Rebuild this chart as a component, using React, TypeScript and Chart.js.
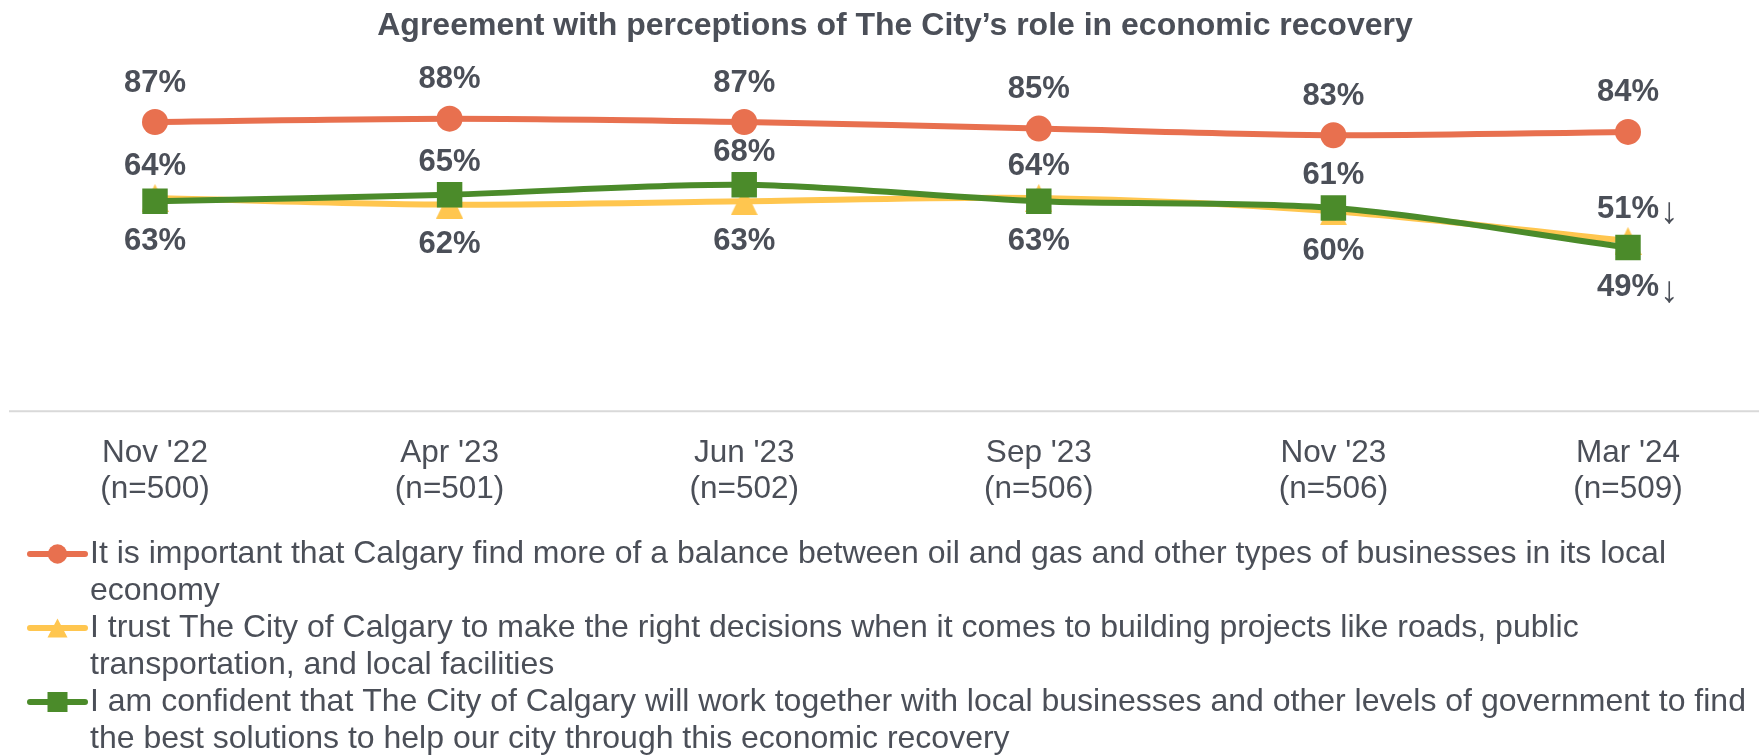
import React, { useEffect, useRef } from 'react';
import { Chart, registerables } from 'chart.js';

Chart.register(...registerables);

const chartTitle = 'Agreement with perceptions of The City’s role in economic recovery';
const waves = ["Nov '22", "Apr '23", "Jun '23", "Sep '23", "Nov '23", "Mar '24"];
const sampleSizes = ['(n=500)', '(n=501)', '(n=502)', '(n=506)', '(n=506)', '(n=509)'];

const balanceValues = [87, 88, 87, 85, 83, 84];
const trustValues = [64, 62, 63, 64, 60, 51];
const confidentValues = [63, 65, 68, 63, 61, 49];

const balanceSigDown = [false, false, false, false, false, false];
const trustSigDown = [false, false, false, false, false, true];
const confidentSigDown = [false, false, false, false, false, true];

const seriesNames = [
  'It is important that Calgary find more of a balance between oil and gas and other types of businesses in its local economy',
  'I trust The City of Calgary to make the right decisions when it comes to building projects like roads, public transportation, and local facilities',
  'I am confident that The City of Calgary will work together with local businesses and other levels of government to find the best solutions to help our city through this economic recovery',
];

const RED = '#E8704F';
const YELLOW = '#FFC64F';
const GREEN = '#4B8B2A';
const TEXT = '#4B4F58';
const FONT = '"Liberation Sans", Arial, "DejaVu Sans", sans-serif';

function makeTriangle(w: number, h: number, color: string): HTMLCanvasElement {
  const c = document.createElement('canvas');
  c.width = w;
  c.height = h;
  const g = c.getContext('2d')!;
  g.fillStyle = color;
  g.beginPath();
  g.moveTo(0, h);
  g.lineTo(w / 2, 0);
  g.lineTo(w, h);
  g.closePath();
  g.fill();
  return c;
}

export default function App() {
  const ref = useRef<HTMLCanvasElement | null>(null);

  useEffect(() => {
    const canvas = ref.current;
    if (!canvas) return;
    const tri = makeTriangle(27, 28, YELLOW);

    const labelPlugin = {
      id: 'customDraw',
      afterDatasetsDraw(chart: any) {
        const ctx = chart.ctx;
        const area = chart.chartArea;
        ctx.save();
        // axis line
        ctx.strokeStyle = '#D9D9D9';
        ctx.lineWidth = 2;
        ctx.beginPath();
        ctx.moveTo(9, area.bottom);
        ctx.lineTo(1759, area.bottom);
        ctx.stroke();

        // data labels
        const drawLabel = (x: number, y: number, v: number, down: boolean) => {
          ctx.font = `bold 31px ${FONT}`;
          ctx.fillStyle = TEXT;
          ctx.textAlign = 'center';
          ctx.textBaseline = 'middle';
          const txt = `${v}%`;
          ctx.fillText(txt, x, y);
          if (down) {
            const w = ctx.measureText(txt).width;
            ctx.font = `37px ${FONT}`;
            ctx.textAlign = 'left';
            ctx.fillText('↓', x + w / 2 + 1, y + 4);
          }
        };
        const m0 = chart.getDatasetMeta(0);
        const m1 = chart.getDatasetMeta(1);
        const m2 = chart.getDatasetMeta(2);
        balanceValues.forEach((v, j) => {
          const p = m0.data[j];
          drawLabel(p.x, p.y - 39, v, balanceSigDown[j]);
        });
        trustValues.forEach((v, j) => {
          const pt = m1.data[j];
          const pc = m2.data[j];
          const cv = confidentValues[j];
          if (v >= cv) {
            drawLabel(pt.x, pt.y - 32, v, trustSigDown[j]);
            drawLabel(pc.x, pc.y + 40, cv, confidentSigDown[j]);
          } else {
            drawLabel(pc.x, pc.y - 32, cv, confidentSigDown[j]);
            drawLabel(pt.x, pt.y + 40, v, trustSigDown[j]);
          }
        });

        // title
        ctx.font = `bold 32px ${FONT}`;
        ctx.fillStyle = TEXT;
        ctx.textAlign = 'center';
        ctx.textBaseline = 'middle';
        ctx.fillText(chartTitle, 895, 26);

        // legend
        const colors = [RED, YELLOW, GREEN];
        const lineH = 37;
        let yCursor = 554;
        const textX = 90;
        const maxW = 1756 - textX;
        ctx.font = `32px ${FONT}`;
        seriesNames.forEach((name, i) => {
          const words = name.split(' ');
          const lines: string[] = [];
          let cur = '';
          words.forEach((w) => {
            const test = cur ? cur + ' ' + w : w;
            if (ctx.measureText(test).width > maxW && cur) {
              lines.push(cur);
              cur = w;
            } else cur = test;
          });
          if (cur) lines.push(cur);
          const cy = yCursor;
          ctx.strokeStyle = colors[i];
          ctx.lineWidth = 6;
          ctx.lineCap = 'round';
          ctx.beginPath();
          ctx.moveTo(30, cy);
          ctx.lineTo(85, cy);
          ctx.stroke();
          ctx.fillStyle = colors[i];
          ctx.beginPath();
          if (i === 0) {
            ctx.arc(57.5, cy, 9.7, 0, Math.PI * 2);
          } else if (i === 1) {
            ctx.moveTo(47.5, cy + 9.5);
            ctx.lineTo(57.5, cy - 9.5);
            ctx.lineTo(67.5, cy + 9.5);
            ctx.closePath();
          } else {
            ctx.rect(47.5, cy - 10, 20, 20);
          }
          ctx.fill();
          ctx.fillStyle = TEXT;
          ctx.textAlign = 'left';
          ctx.textBaseline = 'middle';
          ctx.font = `32px ${FONT}`;
          lines.forEach((ln, k) => {
            ctx.fillText(ln, textX, cy + k * lineH);
          });
          yCursor += lines.length * lineH;
        });
        ctx.restore();
      },
    };

    const chart = new Chart(canvas, {
      type: 'line',
      data: {
        labels: waves.map((w, i) => [w, sampleSizes[i]]),
        datasets: [
          {
            label: seriesNames[0],
            data: balanceValues,
            borderColor: RED,
            backgroundColor: RED,
            borderWidth: 6,
            pointStyle: 'circle',
            pointRadius: 13,
            pointBorderWidth: 0,
            tension: 0.3,
            order: 2,
          },
          {
            label: seriesNames[1],
            data: trustValues,
            borderColor: YELLOW,
            backgroundColor: YELLOW,
            borderWidth: 6,
            pointStyle: tri as any,
            pointRadius: 14,
            pointBorderWidth: 0,
            tension: 0.3,
            order: 1,
          },
          {
            label: seriesNames[2],
            data: confidentValues,
            borderColor: GREEN,
            backgroundColor: GREEN,
            borderWidth: 6,
            pointStyle: 'rect',
            pointRadius: 18,
            pointBorderWidth: 0,
            tension: 0.3,
            order: 0,
          },
        ],
      },
      options: {
        responsive: false,
        animation: false,
        layout: { padding: { top: 79, left: 155, right: 131, bottom: 224 } },
        plugins: {
          legend: { display: false },
          title: { display: false },
          tooltip: { enabled: false },
        },
        scales: {
          x: {
            type: 'category',
            offset: false,
            grid: { display: false, drawTicks: false },
            border: { display: false },
            ticks: {
              autoSkip: false,
              maxRotation: 0,
              padding: 24,
              color: TEXT,
              font: { family: FONT, size: 31.5, lineHeight: 1.14 },
            },
          },
          y: {
            display: false,
            min: -0.5,
            max: 100,
          },
        },
      },
      plugins: [labelPlugin],
    });
    return () => chart.destroy();
  }, []);

  return (
    <div style={{ position: 'absolute', left: 0, top: 0, width: 1759, height: 755, background: '#fff' }}>
      <canvas ref={ref} width={1759} height={755} style={{ display: 'block' }} />
    </div>
  );
}
